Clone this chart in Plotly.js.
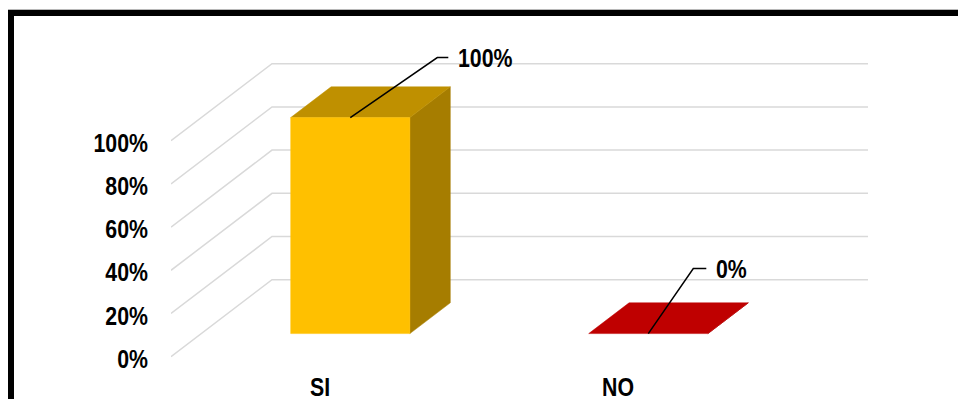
<!DOCTYPE html>
<html>
<head>
<meta charset="utf-8">
<script src="https://cdn.plot.ly/plotly-3.0.1.min.js"></script>
<style>
  html, body { margin:0; padding:0; width:958px; height:399px; overflow:hidden; background:#fff; }
  #grayline { position:absolute; left:8px; top:9px; width:1200px; height:1px; background:#b8b8b8; }
  #frame { position:absolute; left:8px; top:10px; width:1200px; height:800px; border:6px solid #000; box-sizing:border-box; }
  #chart { position:absolute; left:0; top:0; width:958px; height:399px; z-index:2; }
</style>
</head>
<body>
<div id="grayline"></div>
<div id="frame"></div>
<div id="chart"></div>
<script>
// ---- data ----
const categories = ['SI', 'NO'];
const values = [100, 0];
const valueLabels = ['100%', '0%'];
const yTickValues = [0, 20, 40, 60, 80, 100];
const yTickLabels = ['0%', '20%', '40%', '60%', '80%', '100%'];

// ---- style ----
const frontColors = ['#FFC000', '#FF0000'];
const FONT = 'Liberation Sans, Arial, sans-serif';
const NARROW = 0.82;            // horizontal condensing of text (Arial Narrow look)
const YLABEL_DROP = 2;          // px: y tick labels sit slightly below their gridline ends
const W = 958, H = 399;
const M = { l: 171, r: 60, t: 40, b: 31 };
const plotW = W - M.l - M.r, plotH = H - M.t - M.b;
const pxPerCat = 298;           // pixels per category step
const pxPerPct = 2.16;          // pixels per percent
const zeroPx = 356.7;           // pixel row of front 0%
const depthPx = [101, 77];      // oblique depth offset (right, up) in px
const kx = depthPx[0] / pxPerCat;
const ky = depthPx[1] / pxPerPct;
const barW = 0.4;               // in category units
const d0 = 0.3, d1 = 0.7;       // bar depth span (fraction of floor depth)
const leader = [[87, -60, 11], [45, -65, 13]]; // px: bend dx, bend dy, horizontal tail

const xRange = [-0.5, -0.5 + plotW / pxPerCat];
const yRange = [-(M.t + plotH - zeroPx) / pxPerPct, (zeroPx - M.t) / pxPerPct];

function shade(hex, f) {
  const n = parseInt(hex.slice(1), 16);
  const r = Math.round(((n >> 16) & 255) * f), g = Math.round(((n >> 8) & 255) * f), b = Math.round((n & 255) * f);
  return `rgb(${r},${g},${b})`;
}

const traces = [];

// gridlines: back wall and left side wall
const gx = [], gy = [];
yTickValues.forEach(v => {
  gx.push(-0.5, -0.5 + kx, 1.5 + kx, null);
  gy.push(v, v + ky, v + ky, null);
});
traces.push({ x: gx, y: gy, mode: 'lines', line: { color: '#D9D9D9', width: 1.5 }, hoverinfo: 'skip' });

function poly(xs, ys, color) {
  traces.push({ x: xs.concat([xs[0]]), y: ys.concat([ys[0]]), mode: 'lines', fill: 'toself',
    fillcolor: color, line: { width: 0.5, color: color }, hoverinfo: 'skip' });
}

const annotations = [];
categories.forEach((c, i) => {
  const v = values[i];
  const cx = i + d0 * kx;
  const x0 = cx - barW / 2, x1 = cx + barW / 2;
  const yb = d0 * ky, yt = v + d0 * ky;
  const dx = (d1 - d0) * kx, dy = (d1 - d0) * ky;
  const col = frontColors[i];
  // side face
  poly([x1, x1, x1 + dx, x1 + dx], [yb, yt, yt + dy, yb + dy], shade(col, 0.65));
  // top face
  poly([x0, x1, x1 + dx, x0 + dx], [yt, yt, yt + dy, yt + dy], shade(col, 0.75));
  // front face
  if (v > 0) poly([x0, x1, x1, x0], [yb, yb, yt, yt], col);
  // leader line
  const [bx, by, tail] = leader[i];
  const ex = cx + bx / pxPerCat, ey = yt - by / pxPerPct;
  const tx = ex + tail / pxPerCat;
  traces.push({ x: [cx, ex, tx], y: [yt, ey, ey], mode: 'lines', line: { color: '#000', width: 1.5 }, hoverinfo: 'skip' });
  annotations.push({ x: tx, y: ey, xref: 'x', yref: 'y', text: valueLabels[i], showarrow: false,
    xanchor: 'left', yanchor: 'middle', xshift: 8,
    font: { family: FONT, size: 26, color: '#000', weight: 'bold' } });
});

const layout = {
  width: W, height: H,
  margin: M,
  paper_bgcolor: 'rgba(0,0,0,0)', plot_bgcolor: 'rgba(0,0,0,0)',
  showlegend: false, hovermode: false,
  xaxis: { range: xRange, tickvals: categories.map((_, i) => i), ticktext: categories,
    showgrid: false, zeroline: false, showline: false, ticks: '',
    ticklabelstandoff: 1,
    tickfont: { family: FONT, size: 26, color: '#000', weight: 'bold' }, fixedrange: true },
  yaxis: { range: yRange, tickvals: yTickValues, ticktext: yTickLabels,
    showgrid: false, zeroline: false, showline: false, ticks: '',
    ticklabelstandoff: 22,
    tickfont: { family: FONT, size: 26, color: '#000', weight: 'bold' }, fixedrange: true },
  annotations: annotations
};

function narrowTexts(root, f) {
  root.querySelectorAll('text').forEach(t => {
    if (!t.textContent) return;
    const bb = t.getBBox();
    const isAnn = t.classList.contains('annotation-text');
    const isY = !!t.closest('.ytick');
    const anchor = t.getAttribute('text-anchor') || getComputedStyle(t).textAnchor;
    let ax;
    if (isAnn) ax = bb.x;
    else if (anchor === 'end') ax = bb.x + bb.width;
    else if (anchor === 'middle') ax = bb.x + bb.width / 2;
    else ax = bb.x;
    const prev = t.getAttribute('transform') || '';
    const drop = isY ? ` translate(0,${YLABEL_DROP})` : '';
    t.setAttribute('transform', `${prev}${drop} translate(${ax},0) scale(${f},1) translate(${-ax},0)`);
  });
}

Plotly.newPlot('chart', traces, layout, { displayModeBar: false, staticPlot: true })
  .then(gd => narrowTexts(gd, NARROW));
</script>
</body>
</html>
